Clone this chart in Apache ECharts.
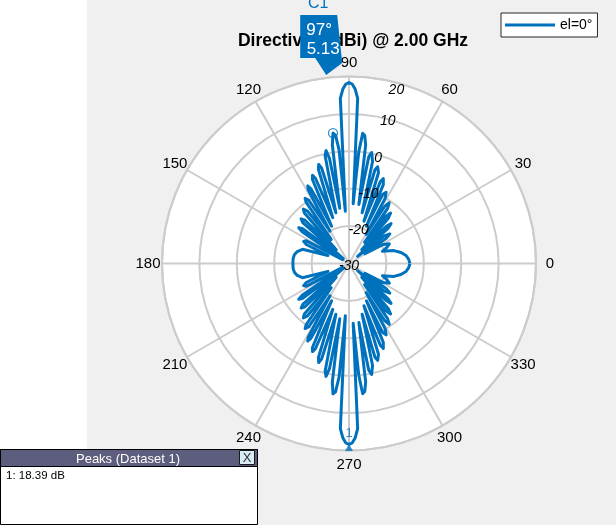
<!DOCTYPE html>
<html>
<head>
<meta charset="utf-8">
<script src="https://cdn.jsdelivr.net/npm/echarts/dist/echarts.min.js"></script>
<style>
html,body{margin:0;padding:0;}
body{width:616px;height:525px;overflow:hidden;background:linear-gradient(to right,#ffffff 0,#ffffff 87px,#f0f0f0 87px,#f0f0f0 100%);}
#chart{width:616px;height:525px;}
</style>
</head>
<body>
<div id="chart"></div>
<script>
// ---- data ----
const angleTicks = [0, 30, 60, 90, 120, 150, 180, 210, 240, 270, 300, 330];
const radialTicks = [-30, -20, -10, 0, 10, 20];
const radialLabelAngle = 75;
const seriesName = 'el=0°';
const titleText = 'Directivity (dBi) @ 2.00 GHz';

// [azimuth (deg), directivity (dBi)] for 0..180
const upperPattern = [
  [0,-13.7],[4,-14],[8,-14.6],[12,-15.8],[16,-17.5],[20,-20.5],
  [23,-19],[26,-18],[29,-19.5],[31.5,-25],
  [34,-18],[36,-16.5],[38,-18],[40,-27],
  [42,-16],[43.5,-14.5],[45,-16],[47,-25],
  [49,-14],[50.5,-12.5],[52,-14],[53.5,-23],
  [55,-12],[56.5,-10.5],[58,-12],[59.5,-21],
  [61,-10],[62.5,-8.5],[64,-9.5],[65,-19],
  [66.5,-7],[68,-5.5],[69,-6.5],[70.5,-18],
  [72,-4.5],[73.5,-3.0],[74.5,-4],[75.5,-16],
  [77,-2],[78.5,0.3],[79.5,-1],[80.5,-14],
  [82,2],[83,4.5],[84,5.0],[85,0],[86,-14],
  [87,14.2],[88,16.7],[89,18.0],[90,18.39],[91,18.0],[92,16.7],[93,14.2],
  [94,-16],[95,0.5],[96,4.5],[97,5.13],[98,2],[99.5,-15],
  [100.5,-1.5],[101.5,0.8],[102.5,-0.5],[104.5,-16],
  [106,-3.5],[107,-2.3],[108,-3.5],[109.5,-17],
  [111.5,-5.5],[112.5,-4.5],[113.5,-5.5],[115,-19],
  [117,-7.5],[118,-6.5],[119,-7.5],[120.5,-20],
  [122.5,-10],[124,-9],[125,-10],[126.5,-22],
  [128.5,-12],[130,-11],[131.5,-12],[133,-25],
  [135.5,-13.5],[137,-12.5],[138.5,-13.5],[140,-28],
  [143,-14.5],[144.5,-13.5],[146,-15],[148.5,-28],
  [152,-17],[154,-16.5],[156,-17.5],[159.5,-24],
  [163,-17],[167,-15.8],[171,-15.2],[175,-15],[180,-15]
];
// [azimuth (deg), directivity (dBi)] for 180..360
const lowerPattern = [
  [185,-15],[189,-15.2],[193,-15.8],[197,-17],[200.5,-24],
  [204,-17.5],[206,-16.5],[208,-17],[211.5,-28],
  [214,-15],[215.5,-13.5],[217,-14.5],[220,-28],
  [221.5,-13.5],[223,-12.5],[224.5,-13.5],[227,-25],
  [228.5,-12],[230,-11],[231.5,-12],[233.5,-22],
  [235,-10],[236,-9],[237.5,-10],[239.5,-20],
  [241,-7.5],[242,-6.5],[243,-7.5],[245,-19],
  [246.5,-5.5],[247.5,-4.5],[248.5,-5.5],[250.5,-17],
  [252,-3.5],[253,-2.3],[254,-3.5],[255.5,-16],
  [257.5,-0.5],[258.5,0.8],[259.5,-1.5],[260.5,-15],
  [262,2],[263,5.13],[264,4.5],[265,0.5],[266,-16],
  [267,14.2],[268,16.7],[269,18.0],[270,18.39],[271,18.0],[272,16.7],[273,14.2],
  [274,-14],[275,0],[276,5.0],[277,4.5],[278,2],
  [279.5,-14],[280.5,-1],[281.5,0.3],[283,-2],
  [284.5,-16],[285.5,-4],[286.5,-3.0],[288,-4.5],
  [289.5,-18],[291,-6.5],[292,-5.5],[293.5,-7],
  [295,-19],[296,-9.5],[297.5,-8.5],[299,-10],
  [300.5,-21],[302,-12],[303.5,-10.5],[305,-12],
  [306.5,-23],[308,-14],[309.5,-12.5],[311,-14],
  [313,-25],[315,-16],[316.5,-14.5],[318,-16],
  [320,-27],[322,-18],[324,-16.5],[326,-18],
  [328.5,-25],[331,-19.5],[334,-18],[337,-19],
  [340,-20.5],[344,-17.5],[348,-15.8],[352,-14.6],[356,-14],[360,-13.7]
];

const cursorAzimuth = [97];
const cursorValue = [5.13];
const cursorLabel = 'C1';
const peakAzimuth = [270];
const peakValue = [18.39];
const peakLabel = '1';
const peaksPanelTitle = 'Peaks (Dataset 1)';
const peaksPanelRows = ['1: 18.39 dB'];

// ---- chart ----
const BLUE = '#0072BD';
const GRID = '#cccccc';
const FONT = '"Liberation Sans", Arial, Helvetica, sans-serif';
const CX = 349, CY = 263.5, R = 187;
const rMin = radialTicks[0], rMax = radialTicks[radialTicks.length - 1];

const chart = echarts.init(document.getElementById('chart'), null, {renderer: 'canvas'});

const lineData = upperPattern.concat(lowerPattern).map(p => [p[1], p[0]]);

chart.setOption({
  backgroundColor: 'transparent',
  animation: false,
  polar: [{center: [CX, CY], radius: R}],
  angleAxis: {
    type: 'value', min: 0, max: 360, interval: 30,
    startAngle: 0, clockwise: false, z: 1,
    axisLine: {show: true, lineStyle: {color: GRID, width: 2}},
    axisTick: {show: false},
    axisLabel: {show: false},
    splitLine: {show: true, lineStyle: {color: GRID, width: 2}}
  },
  radiusAxis: {
    type: 'value', min: rMin, max: rMax, interval: 10, z: 1,
    axisLine: {show: false}, axisTick: {show: false}, axisLabel: {show: false},
    splitLine: {show: true, lineStyle: {color: GRID, width: 2}},
    splitArea: {show: false}
  },
  legend: {
    show: true,
    data: [{name: seriesName, icon: 'rect'}],
    left: 501, top: 13,
    padding: [5, 5, 5, 4], itemWidth: 50, itemHeight: 3, itemGap: 5,
    backgroundColor: '#ffffff', borderColor: '#262626', borderWidth: 1, borderRadius: 0,
    textStyle: {fontSize: 14, color: '#000', fontFamily: FONT},
    selectedMode: false
  },
  series: [
    {
      name: seriesName, type: 'line', coordinateSystem: 'polar',
      data: lineData, symbol: 'none', smooth: false, clip: false,
      lineStyle: {color: BLUE, width: 3, join: 'round'},
      itemStyle: {color: BLUE}, z: 3
    },
    {
      type: 'scatter', coordinateSystem: 'polar',
      data: cursorAzimuth.map((a, i) => [cursorValue[i], a]),
      symbol: 'circle', symbolSize: 9,
      itemStyle: {color: 'rgba(255,255,255,0)', borderColor: BLUE, borderWidth: 1.3}, z: 4
    },
    {
      type: 'scatter', coordinateSystem: 'polar',
      data: peakAzimuth.map((a, i) => [peakValue[i], a]),
      symbol: 'triangle', symbolSize: [8, 7], symbolOffset: [0, 3],
      itemStyle: {color: BLUE}, z: 4,
      label: {show: true, formatter: peakLabel, position: 'top', distance: 4, color: BLUE, fontSize: 13, fontFamily: FONT}
    }
  ]
});

const graphics = [];
const c = chart.convertToPixel({polarIndex: 0}, [rMin, 0]);
const edge = chart.convertToPixel({polarIndex: 0}, [rMax, 0]);
const rPix = edge[0] - c[0];

// white disc behind the grid
graphics.push({type: 'circle', z: -10, silent: true, shape: {cx: c[0], cy: c[1], r: rPix}, style: {fill: '#ffffff'}});

// angle tick labels, centred at a fixed distance beyond the rim
angleTicks.forEach(a => {
  const p = chart.convertToPixel({polarIndex: 0}, [rMax, a]);
  const k = (rPix + 14) / rPix;
  graphics.push({type: 'text', x: c[0] + (p[0] - c[0]) * k, y: c[1] + (p[1] - c[1]) * k + 0.5, z: 5,
    style: {text: String(a), fontSize: 15, fontFamily: FONT, fill: '#000', align: 'center', verticalAlign: 'middle'}});
});

// radial tick labels along 75° (outermost one tucked inside the rim)
radialTicks.forEach(v => {
  const p = chart.convertToPixel({polarIndex: 0}, [v, radialLabelAngle]);
  const dy = v === rMax ? 7 : 2.5;
  graphics.push({type: 'text', x: p[0] - (v === rMax ? 1 : 0), y: p[1] + dy, z: 5,
    style: {text: String(v), fontSize: 14, fontStyle: 'italic', fontFamily: FONT, fill: '#000',
      align: 'center', verticalAlign: 'middle'}});
});

// title
graphics.push({type: 'text', x: 353, y: 41.5, z: 5,
  style: {text: titleText, fontSize: 17.5, fontWeight: 'bold', fontFamily: FONT, fill: '#000',
    align: 'center', verticalAlign: 'middle'}});

// data cursor callout at the rim
const tip = chart.convertToPixel({polarIndex: 0}, [rMax, cursorAzimuth[0]]);
const tx = tip[0], ty = tip[1] - 3;
graphics.push({type: 'polygon', z: 10,
  shape: {points: [[tx - 26, ty - 60], [tx + 11, ty - 60], [tx + 16, ty - 12], [tx, ty], [tx - 11, ty - 17], [tx - 26, ty - 17]]},
  style: {fill: BLUE}});
graphics.push({type: 'text', x: tx - 7, y: ty - 45, z: 11,
  style: {text: cursorAzimuth[0] + '°', fontSize: 17, fontFamily: FONT, fill: '#fff', align: 'center', verticalAlign: 'middle'}});
graphics.push({type: 'text', x: tx - 3, y: ty - 26, z: 11,
  style: {text: cursorValue[0].toFixed(2), fontSize: 17, fontFamily: FONT, fill: '#fff', align: 'center', verticalAlign: 'middle'}});
graphics.push({type: 'text', x: tx - 8, y: ty - 71, z: 11,
  style: {text: cursorLabel, fontSize: 16, fontFamily: FONT, fill: BLUE, align: 'center', verticalAlign: 'middle'}});

// peaks panel
graphics.push({type: 'rect', z: 20, shape: {x: 0.5, y: 449.5, width: 257, height: 75},
  style: {fill: '#ffffff', stroke: '#000', lineWidth: 1}});
graphics.push({type: 'rect', z: 21, shape: {x: 0.5, y: 449.5, width: 257, height: 17},
  style: {fill: '#5d5d7d', stroke: '#000', lineWidth: 1}});
graphics.push({type: 'text', x: 128, y: 459, z: 22,
  style: {text: peaksPanelTitle, fontSize: 13, fontFamily: FONT, fill: '#fff', align: 'center', verticalAlign: 'middle'}});
graphics.push({type: 'rect', z: 22, shape: {x: 239.5, y: 450.5, width: 15, height: 14},
  style: {fill: '#d8ecf4', stroke: '#1a1a1a', lineWidth: 1}});
graphics.push({type: 'text', x: 247, y: 458, z: 23,
  style: {text: 'X', fontSize: 13, fontFamily: FONT, fill: '#333', align: 'center', verticalAlign: 'middle'}});
peaksPanelRows.forEach((t, i) => {
  graphics.push({type: 'text', x: 6, y: 476 + i * 14, z: 22,
    style: {text: t, fontSize: 11.5, fontFamily: FONT, fill: '#000', align: 'left', verticalAlign: 'middle'}});
});

chart.setOption({graphic: graphics});
</script>
</body>
</html>
